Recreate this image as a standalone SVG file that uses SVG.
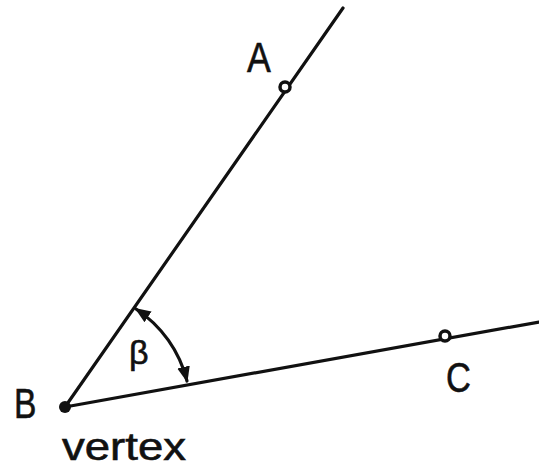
<svg xmlns="http://www.w3.org/2000/svg" width="539" height="467" viewBox="0 0 539 467">
<defs>
<style>
.ln{stroke:#111;stroke-width:3.2;fill:none;stroke-linecap:round}
.lb{font-family:"Liberation Sans",Arial,sans-serif;font-size:42px;fill:#111;stroke:#111;stroke-width:0.6}
</style>
<marker id="ah" viewBox="0 0 10 10" refX="9" refY="5" markerWidth="5" markerHeight="5" orient="auto-start-reverse" markerUnits="strokeWidth">
<path d="M0,1 L10,5 L0,9 Z" fill="#111"/>
</marker>
</defs>
<rect width="539" height="467" fill="#fff"/>
<g id="connectors">
<line class="ln" x1="65" y1="407" x2="343" y2="8"/>
<line class="ln" x1="65" y1="407" x2="539" y2="322"/>
<path class="ln" d="M136,309 A121,121 0 0 1 187,381" stroke-width="2.5" marker-start="url(#ah)" marker-end="url(#ah)"/>
</g>
<g id="A"><circle cx="285" cy="87" r="5" fill="#fff" stroke="#111" stroke-width="3.5"/><text class="lb" transform="translate(247,72) scale(0.85,1)">A</text></g>
<g id="B"><circle cx="65" cy="407" r="6" fill="#111"/><text class="lb" transform="translate(14,418) scale(0.8,1)">B</text></g>
<g id="C"><circle cx="445" cy="336" r="5" fill="#fff" stroke="#111" stroke-width="3.5"/><text class="lb" transform="translate(446,392) scale(0.82,1)">C</text></g>
<g id="beta"><text class="lb" style="font-size:34px" x="129" y="364">β</text></g>
<g id="vertex"><text class="lb" style="font-size:38px" x="62" y="460" textLength="124" lengthAdjust="spacingAndGlyphs">vertex</text></g>
</svg>
